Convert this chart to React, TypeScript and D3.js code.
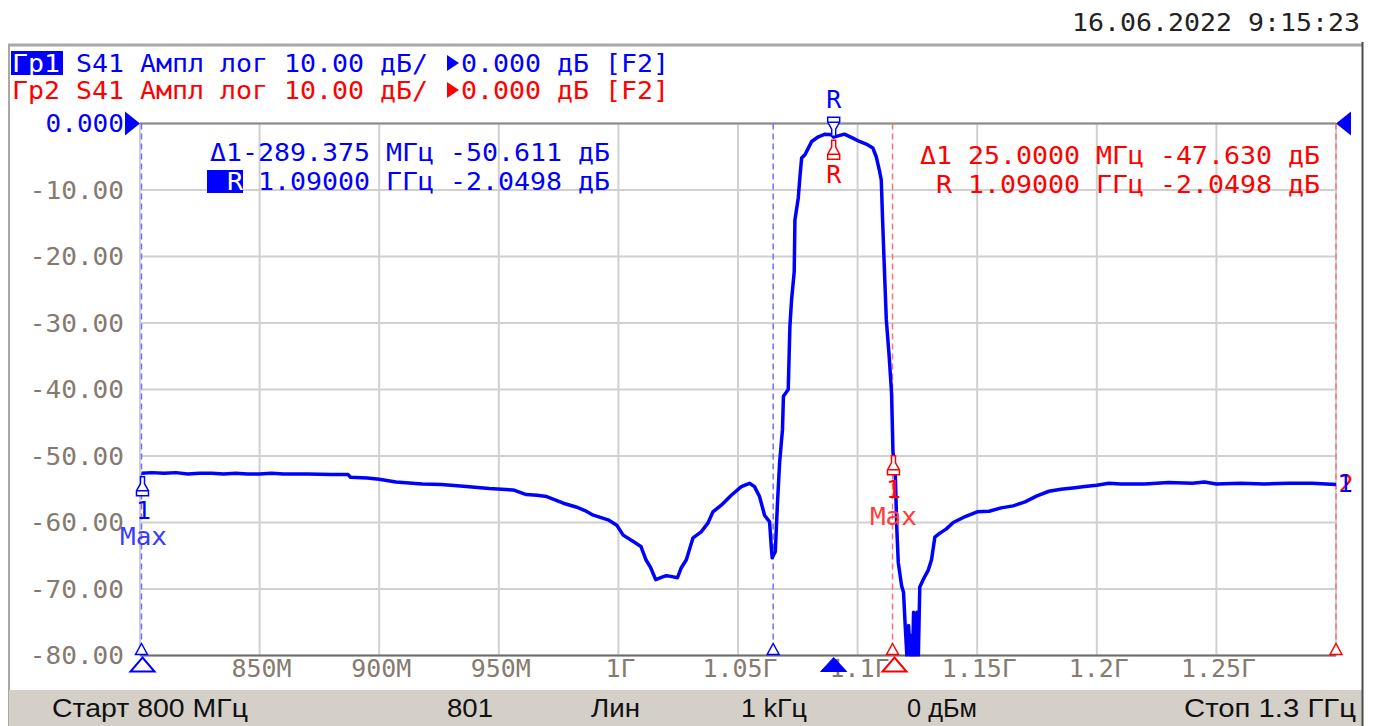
import React from 'react';
import * as d3 from 'd3';

const W = 1376;
const H = 726;

const freqStart = 800;
const freqStop = 1300;
const dbTop = 0;
const dbBottom = -80;

// S41 trace (MHz, dB)
const traceFreq = [
  800.6, 805, 810, 815, 820, 825, 830, 835, 840, 845, 850, 855, 860, 870, 880, 887, 888, 895, 900, 907,
  918, 926, 934, 940, 946, 956, 961.5, 966, 970, 977, 982.6, 986, 989.5, 995.7, 999.3, 1002, 1006.4, 1009.4,
  1011.5, 1013.5, 1015.6, 1017.7, 1020, 1021.9, 1024.7, 1026.3, 1028.4, 1031.2, 1034.6, 1037.4, 1039.5,
  1043, 1047.2, 1051.4, 1054.8, 1056.9, 1059, 1061.1, 1063.2, 1064, 1064.3, 1065.6, 1066.5, 1067.4, 1068.6,
  1069.0, 1071, 1071.7, 1072.4, 1073.5, 1073.8, 1075.2, 1075.9, 1076.6, 1078, 1079.4, 1080.8, 1083.6,
  1086.4, 1089.2, 1090, 1094.5, 1098, 1100.8, 1103.6, 1106.4, 1107.8, 1109.2, 1109.9, 1110.4, 1110.9,
  1112, 1113.2, 1114.2, 1114.8, 1115.7, 1116.4, 1117, 1118.4, 1119.2, 1119.9, 1120.6, 1121.3, 1122, 1122.5, 1123,
  1123.4, 1124.1, 1124.8, 1125.4, 1126, 1127.4, 1129.5, 1130.9, 1132.3, 1134.4, 1137, 1140, 1145, 1150,
  1155, 1160, 1165, 1170, 1175, 1180, 1185, 1190, 1195, 1200, 1205, 1210, 1220, 1230, 1240, 1245, 1250,
  1260, 1270, 1280, 1290, 1300,
];
const traceDb = [
  -52.6, -52.5, -52.6, -52.5, -52.7, -52.6, -52.6, -52.7, -52.6, -52.7, -52.7, -52.6, -52.7, -52.7, -52.8, -52.8, -53.2, -53.3, -53.5, -53.9,
  -54.2, -54.3, -54.5, -54.7, -54.9, -55.1, -55.8, -55.9, -56.1, -57.1, -57.7, -58.2, -58.9, -59.6, -60.4, -61.9, -62.9, -63.6,
  -65.6, -66.8, -68.6, -68.3, -68.0, -68.1, -68.3, -66.8, -65.6, -62.3, -61.4, -60.1, -58.4,
  -57.4, -55.9, -54.6, -54.1, -54.6, -56.1, -58.9, -59.9, -64.1, -65.3, -64.4, -57.1, -51.0, -46.0,
  -41.0, -40.0, -30.5, -26.5, -22.3, -14.5, -11.2, -8.0, -5.2, -4.7, -3.7, -2.7, -2.0,
  -1.6, -1.7, -2.05, -1.6, -2.2, -2.7, -3.1, -3.7, -5.0, -7.2, -8.5, -14, -19,
  -29.5, -35, -40.6, -49.5, -52, -61, -66, -69.5, -70.5, -75.5, -82, -75.5, -82, -77, -82,
  -73.5, -82, -73.5, -82, -69.7, -68.6, -67.2, -65.6, -62.2, -61.6, -61, -60, -59.1, -58.4,
  -58.3, -57.8, -57.5, -56.9, -56, -55.3, -55.0, -54.8, -54.6, -54.4, -54.1, -54.2, -54.2, -54.0, -54.1, -53.9, -54.2,
  -54.1, -54.2, -54.1, -54.1, -54.3,
];

const xTickValues = [850, 900, 950, 1000, 1050, 1100, 1150, 1200, 1250];
const xTickLabels = ['850M', '900M', '950M', '1Г', '1.05Г', '1.1Г', '1.15Г', '1.2Г', '1.25Г'];
const xGridValues = [800, 850, 900, 950, 1000, 1050, 1100, 1150, 1200, 1250, 1300];
const yTickValues = [0, -10, -20, -30, -40, -50, -60, -70, -80];
const yTickLabels = ['0.000', '-10.00', '-20.00', '-30.00', '-40.00', '-50.00', '-60.00', '-70.00', '-80.00'];

// markers
const refMarkerFreq = 1090;
const refMarkerDb = -2.0498;
const blueM1Freq = 800.625;
const blueM1Db = -52.66;
const redM1Freq = 1115;
const redM1Db = -49.68;
const blueDashedFreqs = [800.625, 1064.7];
const redDashedFreqs = [1114.6, 1300];

const headerBlue = ['Гр1', 'S41 Ампл лог 10.00 дБ/', '0.000 дБ [F2]'];
const headerRed = ['Гр2', 'S41 Ампл лог 10.00 дБ/', '0.000 дБ [F2]'];
const blueInfo = ['Δ1-289.375 МГц -50.611 дБ', '1.09000 ГГц -2.0498 дБ'];
const redInfo = ['Δ1 25.0000 МГц -47.630 дБ', 'R 1.09000 ГГц -2.0498 дБ'];
const dateText = '16.06.2022 9:15:23';
const statusItems = [
  { text: 'Старт 800 МГц', x0: 52, w: 196 },
  { text: '801', x0: 447, w: 46 },
  { text: 'Лин', x0: 591, w: 49 },
  { text: '1 kГц', x0: 741, w: 66 },
  { text: '0 дБм', x0: 907, w: 70 },
  { text: 'Стоп 1.3 ГГц', x0: 1184, w: 172 },
];

const BLUE = '#0000ff';
const RED = '#ff0000';
const MONO = '"DejaVu Sans Mono", monospace';
const TICK = '#857a70';

function MT(props: {
  x: number; y: number; text: string; cw: number; fill: string; anchor?: string; size?: number;
}) {
  const { x, y, text, cw, fill, anchor = 'start', size = 25 } = props;
  return (
    <text
      x={x}
      y={y}
      textLength={text.length * cw}
      lengthAdjust="spacingAndGlyphs"
      textAnchor={anchor}
      dominantBaseline="central"
      fontFamily={MONO}
      fontSize={size}
      fill={fill}
    >
      {text}
    </text>
  );
}

// pin glyph: tip at (x, y); dir = 1 -> glyph below pointing up, dir = -1 -> glyph above pointing down
function pinPath(x: number, y: number, dir: number) {
  const s = dir;
  const p = [
    [x - 2, y], [x + 2, y], [x + 2, y + 7 * s], [x + 6, y + 14 * s], [x + 6, y + 19 * s],
    [x - 6, y + 19 * s], [x - 6, y + 14 * s], [x - 2, y + 7 * s],
  ];
  return 'M' + p.map((q) => q.join(',')).join('L') + 'Z' + `M${x - 6},${y + 14 * s}L${x + 6},${y + 14 * s}`;
}

function triUp(x: number, yTop: number, w: number, h: number) {
  return `M${x},${yTop}L${x + w / 2},${yTop + h}L${x - w / 2},${yTop + h}Z`;
}

export default function App() {
  const plotL = 140;
  const plotR = 1336;
  const plotT = 123.5;
  const plotB = 655.5;

  const x = d3.scaleLinear().domain([freqStart, freqStop]).range([plotL, plotR]);
  const y = d3.scaleLinear().domain([dbBottom, dbTop]).range([plotB, plotT]).clamp(true);

  const pts: [number, number][] = traceFreq.map((f, i) => [f, traceDb[i]]);
  const line = d3
    .line<[number, number]>()
    .x((d) => x(d[0]))
    .y((d) => y(d[1]));

  const rx = x(refMarkerFreq);
  const ry = y(refMarkerDb);
  const b1x = x(blueM1Freq);
  const b1y = y(blueM1Db);
  const r1x = x(redM1Freq);
  const r1y = y(redM1Db);

  return (
    <svg
      width={W}
      height={H}
      viewBox={`0 0 ${W} ${H}`}
      style={{ position: 'absolute', left: 0, top: 0, display: 'block', background: '#ffffff' }}
    >
      <defs>
        <clipPath id="plotClip">
          <rect x={plotL - 2} y={plotT - 2} width={plotR - plotL + 4} height={plotB - plotT + 3} />
        </clipPath>
      </defs>
      <rect x={0} y={0} width={W} height={H} fill="#ffffff" />

      {/* date */}
      <MT x={1072} y={22} text={dateText} cw={16} fill="#222222" />

      {/* window frame */}
      <line x1={8} y1={45} x2={1362} y2={45} stroke="#a8a8a8" strokeWidth={3} />
      <line x1={9} y1={45} x2={9} y2={726} stroke="#a8a8a8" strokeWidth={2} />
      <rect x={9} y={690} width={1353} height={36} fill="#d4d0c8" />
      <line x1={1362.5} y1={42} x2={1362.5} y2={726} stroke="#4a4a4a" strokeWidth={2} />

      {/* header */}
      <rect x={11} y={51} width={52} height={24} fill={BLUE} />
      <MT x={12} y={63} text={headerBlue[0]} cw={16} fill="#ffffff" />
      <MT x={76} y={63} text={headerBlue[1]} cw={16} fill={BLUE} />
      <path d="M447,55L459,63L447,71Z" fill={BLUE} />
      <MT x={461} y={63} text={headerBlue[2]} cw={16} fill={BLUE} />

      <MT x={12} y={90} text={headerRed[0]} cw={16} fill={RED} />
      <MT x={76} y={90} text={headerRed[1]} cw={16} fill={RED} />
      <path d="M447,82L459,90L447,98Z" fill={RED} />
      <MT x={461} y={90} text={headerRed[2]} cw={16} fill={RED} />

      {/* grid */}
      {xGridValues.map((v) => (
        <line key={'gx' + v} x1={x(v)} y1={plotT} x2={x(v)} y2={plotB} stroke="#d0d0d0" strokeWidth={2} />
      ))}
      {yTickValues.map((v) => (
        <line key={'gy' + v} x1={plotL} y1={y(v)} x2={plotR} y2={y(v)} stroke="#d0d0d0" strokeWidth={2} />
      ))}
      <line x1={plotL} y1={plotT} x2={plotR} y2={plotT} stroke="#8a8a8a" strokeWidth={2} />
      <line x1={plotL} y1={plotB} x2={plotR} y2={plotB} stroke="#6e6e6e" strokeWidth={2} />

      {/* marker dashed lines */}
      {blueDashedFreqs.map((f) => (
        <line key={'bd' + f} x1={x(f)} y1={plotT} x2={x(f)} y2={plotB} stroke="#7070ff" strokeWidth={1.5} strokeDasharray="6,4" />
      ))}
      {redDashedFreqs.map((f) => (
        <line key={'rd' + f} x1={x(f)} y1={plotT} x2={x(f)} y2={plotB} stroke="#ff7070" strokeWidth={1.5} strokeDasharray="6,4" />
      ))}

      {/* y tick labels */}
      {yTickValues.map((v, i) => (
        <MT key={'yl' + v} x={124} y={y(v)} text={yTickLabels[i]} cw={15.7} anchor="end" fill={i === 0 ? BLUE : TICK} />
      ))}
      {/* x tick labels */}
      {xTickValues.map((v, i) => (
        <MT key={'xl' + v} x={x(v) + 2} y={668} text={xTickLabels[i]} cw={15} anchor="middle" fill={TICK} />
      ))}

      {/* reference level triangles */}
      <path d={`M${plotL - 15},${plotT - 12}L${plotL},${plotT}L${plotL - 15},${plotT + 12}Z`} fill={BLUE} />
      <path d={`M${plotR + 15},${plotT - 12}L${plotR},${plotT}L${plotR + 15},${plotT + 12}Z`} fill={BLUE} />

      {/* trace */}
      <g clipPath="url(#plotClip)">
        <path d={line(pts) || ''} fill="none" stroke={BLUE} strokeWidth={3.5} strokeLinejoin="round" />
      </g>

      {/* marker info */}
      <MT x={610} y={152} text={blueInfo[0]} cw={16} anchor="end" fill={BLUE} />
      <rect x={207} y={170} width={36} height={23} fill={BLUE} />
      <MT x={227} y={181} text="R" cw={16} fill="#ffffff" />
      <MT x={610} y={181} text={blueInfo[1]} cw={16} anchor="end" fill={BLUE} />
      <MT x={1320} y={155} text={redInfo[0]} cw={16} anchor="end" fill={RED} />
      <MT x={1320} y={184} text={redInfo[1]} cw={16} anchor="end" fill={RED} />

      {/* reference marker R */}
      <MT x={rx} y={100} text="R" cw={15} anchor="middle" fill={BLUE} size={24} />
      <path d={pinPath(rx, ry - 1, -1)} fill="#ffffff" stroke={BLUE} strokeWidth={1.5} />
      <path d={pinPath(rx, ry + 3, 1)} fill="#ffffff" stroke={RED} strokeWidth={1.5} />
      <MT x={rx} y={175} text="R" cw={15} anchor="middle" fill={RED} size={24} />

      {/* blue marker 1 */}
      <path d={pinPath(b1x + 1, b1y + 3, 1)} fill="#ffffff" stroke={BLUE} strokeWidth={1.5} />
      <MT x={b1x + 2} y={511} text="1" cw={15} anchor="middle" fill={BLUE} size={24} />
      <MT x={b1x + 2} y={537} text="Max" cw={15.7} anchor="middle" fill="#3a3aff" size={24} />

      {/* red marker 1 */}
      <path d={pinPath(r1x, r1y + 2, 1)} fill="#ffffff" stroke={RED} strokeWidth={1.5} />
      <MT x={r1x} y={490} text="1" cw={15} anchor="middle" fill={RED} size={24} />
      <MT x={r1x} y={517} text="Max" cw={15.7} anchor="middle" fill="#ff3a3a" size={24} />

      {/* right end labels */}
      <MT x={1346} y={484} text="2" cw={15} anchor="middle" fill={RED} size={24} />
      <MT x={1345} y={484} text="1" cw={15} anchor="middle" fill={BLUE} size={24} />

      {/* axis triangles */}
      {blueDashedFreqs.map((f) => (
        <path key={'bt' + f} d={triUp(x(f), plotB - 12, 12, 11)} fill="#ffffff" stroke={BLUE} strokeWidth={1.5} />
      ))}
      {redDashedFreqs.map((f) => (
        <path key={'rt' + f} d={triUp(x(f), plotB - 12, 12, 11)} fill="#ffffff" stroke={RED} strokeWidth={1.5} />
      ))}
      <path d={triUp(b1x + 1, plotB + 2, 24, 14)} fill="#ffffff" stroke={BLUE} strokeWidth={2} />
      <path d={triUp(rx, plotB + 2, 26, 14)} fill={BLUE} stroke={BLUE} strokeWidth={1} />
      <path d={triUp(r1x + 1, plotB + 2, 24, 14)} fill="#ffffff" stroke={RED} strokeWidth={2} />

      {/* status bar */}
      {statusItems.map((s) => (
        <text
          key={s.text}
          x={s.x0}
          y={708}
          textLength={s.w}
          lengthAdjust="spacingAndGlyphs"
          dominantBaseline="central"
          fontFamily='"Liberation Sans", Arial, sans-serif'
          fontSize={25}
          fill="#111111"
        >
          {s.text}
        </text>
      ))}
    </svg>
  );
}
